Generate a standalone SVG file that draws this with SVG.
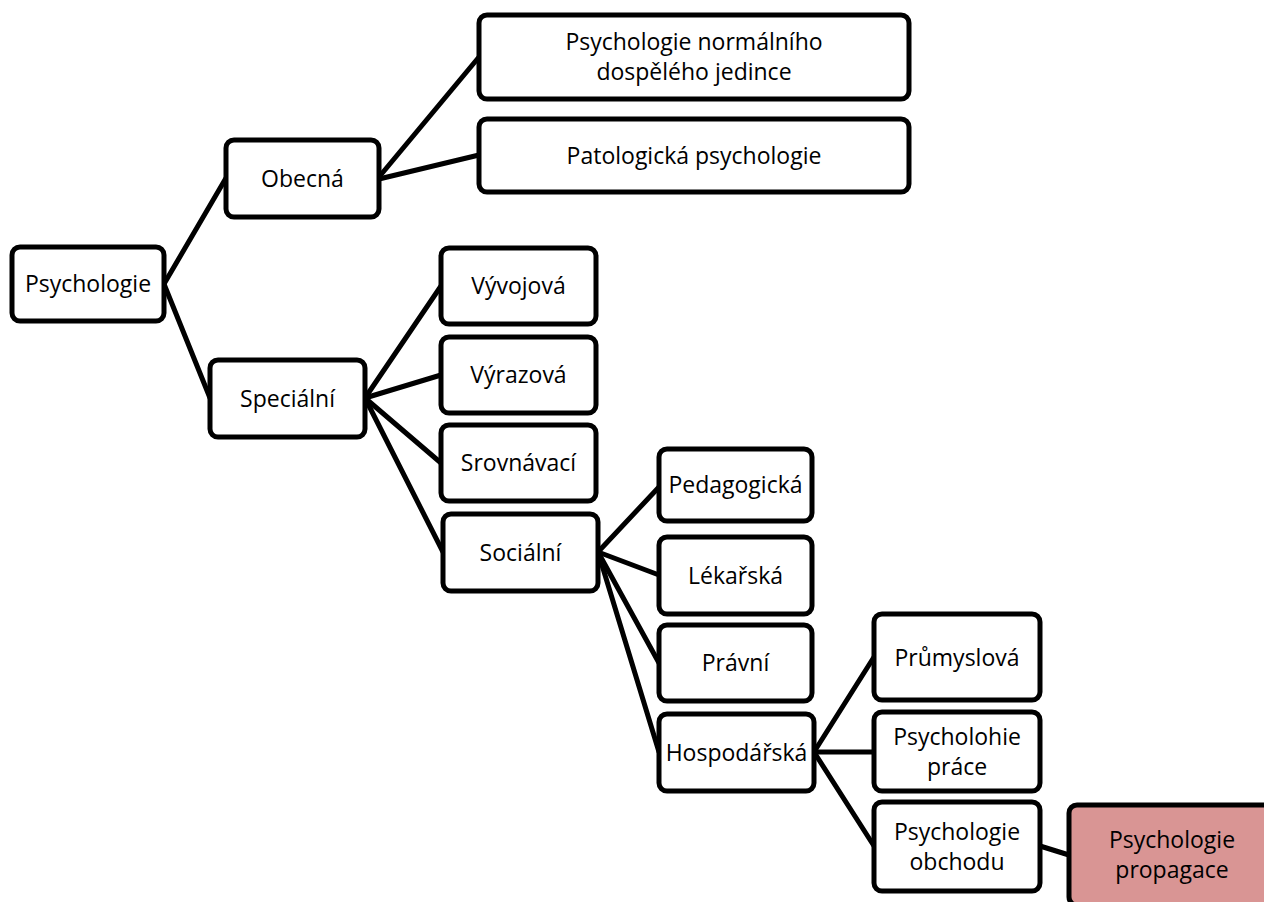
<svg xmlns="http://www.w3.org/2000/svg" width="1264" height="902" viewBox="0 0 1264 902">
<style>
.box{fill:#ffffff;stroke:#000000;stroke-width:5}
.hl{fill:#d99594;stroke:#000000;stroke-width:5}
.lbl{font-family:"Open Sans","Liberation Sans",sans-serif;font-size:23px;fill:#000000;text-anchor:middle}
.conn line{stroke:#000000;stroke-width:5;stroke-linecap:round}
</style>
<rect width="1264" height="902" fill="#ffffff"/>
<g id="connectors" class="conn">
<line x1="164" y1="284" x2="226" y2="178"/>
<line x1="164" y1="284" x2="210" y2="398"/>
<line x1="379" y1="177" x2="479" y2="57"/>
<line x1="379" y1="179" x2="479" y2="155"/>
<line x1="365" y1="398" x2="441" y2="286"/>
<line x1="365" y1="398" x2="441" y2="375"/>
<line x1="365" y1="398" x2="441" y2="463"/>
<line x1="365" y1="398" x2="443" y2="552"/>
<line x1="598" y1="552" x2="659" y2="487"/>
<line x1="598" y1="552" x2="659" y2="575"/>
<line x1="598" y1="552" x2="659" y2="663"/>
<line x1="598" y1="552" x2="659" y2="752"/>
<line x1="814" y1="752" x2="874" y2="657"/>
<line x1="814" y1="752" x2="874" y2="752"/>
<line x1="814" y1="752" x2="874" y2="846"/>
<line x1="1040" y1="846" x2="1069" y2="855"/>
</g>
<g id="n-psychologie"><rect class="box" x="12" y="247" width="152" height="74" rx="8"/><text class="lbl" x="88" y="292">Psychologie</text></g>
<g id="n-obecna"><rect class="box" x="226" y="140" width="153" height="77" rx="8"/><text class="lbl" x="302.5" y="187">Obecná</text></g>
<g id="n-normalni"><rect class="box" x="479" y="15" width="430" height="84" rx="8"/><text class="lbl" x="694" y="50">Psychologie normálního</text><text class="lbl" x="694" y="80">dospělého jedince</text></g>
<g id="n-patologicka"><rect class="box" x="479" y="119" width="430" height="73" rx="8"/><text class="lbl" x="694" y="164">Patologická psychologie</text></g>
<g id="n-specialni"><rect class="box" x="210" y="360" width="155" height="77" rx="8"/><text class="lbl" x="287.5" y="407">Speciální</text></g>
<g id="n-vyvojova"><rect class="box" x="441" y="248" width="155" height="76" rx="8"/><text class="lbl" x="518.5" y="294">Vývojová</text></g>
<g id="n-vyrazova"><rect class="box" x="441" y="337" width="155" height="76" rx="8"/><text class="lbl" x="518.5" y="383">Výrazová</text></g>
<g id="n-srovnavaci"><rect class="box" x="441" y="425" width="155" height="76" rx="8"/><text class="lbl" x="518.5" y="471">Srovnávací</text></g>
<g id="n-socialni"><rect class="box" x="443" y="514" width="155" height="77" rx="8"/><text class="lbl" x="520.5" y="561">Sociální</text></g>
<g id="n-pedagogicka"><rect class="box" x="659" y="449" width="153" height="72" rx="8"/><text class="lbl" x="735.5" y="493">Pedagogická</text></g>
<g id="n-lekarska"><rect class="box" x="659" y="537" width="153" height="77" rx="8"/><text class="lbl" x="735.5" y="584">Lékařská</text></g>
<g id="n-pravni"><rect class="box" x="659" y="625" width="153" height="76" rx="8"/><text class="lbl" x="735.5" y="671">Právní</text></g>
<g id="n-hospodarska"><rect class="box" x="659" y="714" width="155" height="77" rx="8"/><text class="lbl" x="736.5" y="761">Hospodářská</text></g>
<g id="n-prumyslova"><rect class="box" x="874" y="614" width="166" height="86" rx="8"/><text class="lbl" x="957" y="666">Průmyslová</text></g>
<g id="n-prace"><rect class="box" x="874" y="712" width="166" height="79" rx="8"/><text class="lbl" x="957" y="745">Psycholohie</text><text class="lbl" x="957" y="775">práce</text></g>
<g id="n-obchodu"><rect class="box" x="874" y="802" width="166" height="89" rx="8"/><text class="lbl" x="957" y="840">Psychologie</text><text class="lbl" x="957" y="870">obchodu</text></g>
<g id="n-propagace"><rect class="hl" x="1069" y="805" width="206" height="100" rx="8"/><text class="lbl" x="1172" y="848">Psychologie</text><text class="lbl" x="1172" y="878">propagace</text></g>
</svg>
